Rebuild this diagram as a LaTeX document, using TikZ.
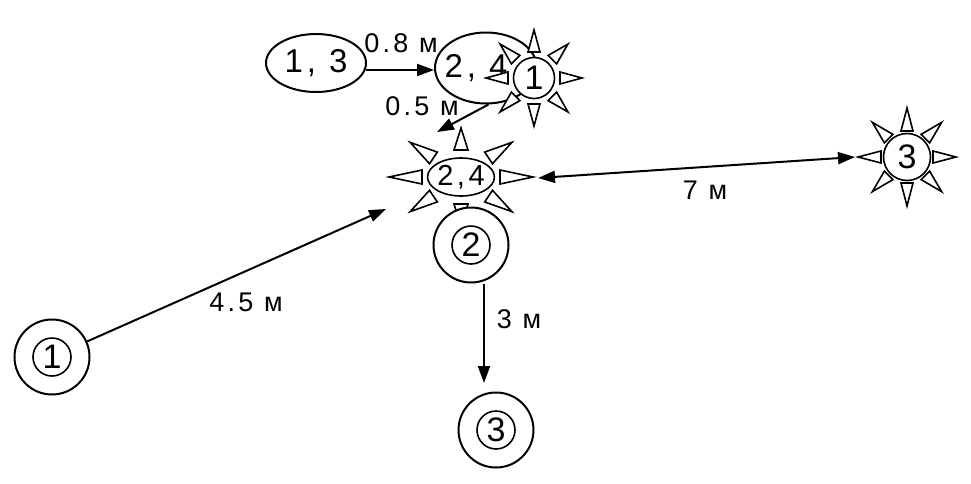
\documentclass[tikz,border=0pt]{standalone}
\usepackage{fontspec}
\setmainfont{Liberation Sans}
\newfontfamily\lsp[LetterSpace=12]{Liberation Sans}
\usetikzlibrary{arrows.meta,calc,shapes.geometric}
\tikzset{
  lw/.style={line width=2pt},
  outerc/.style={circle, draw, lw, minimum size=75pt, inner sep=0pt, fill=white},
  innerc/.style={circle, draw, line width=1.6pt, minimum size=38pt, inner sep=0pt, fill=white, font=\fontsize{34}{34}\selectfont},
  lab/.style={font=\lsp\fontsize{27}{27}\selectfont, inner sep=0pt},
  big/.style={font=\lsp\fontsize{33}{33}\selectfont, inner sep=0pt},
  arr/.style={lw, -{Triangle[length=17pt,width=12pt]}},
  dbl/.style={lw, {Triangle[length=17pt,width=12pt]}-{Triangle[length=17pt,width=12pt]}},
  ray/.style={line width=1.6pt, fill=white, line join=miter},
  ell/.style={ellipse, draw, lw, fill=white, inner sep=0pt},
}
\newcommand\sunray[7]{%
  \path (#1) ++(#2:#3pt and #4pt) coordinate (ri);
  \path (#1) ++(#2:#5pt and #6pt) coordinate (ro);
  \draw[ray] ($(ri)!#7pt!90:(ro)$) -- (ro) -- ($(ri)!#7pt!-90:(ro)$) -- cycle;
}
\begin{document}
\begin{tikzpicture}[x=1pt,y=-1pt]
\useasboundingbox (0,0) rectangle (971,483);

% top ellipses
\node[ell, minimum width=100pt, minimum height=58pt] (e13) at (316,63) {};
\node[big] (e13t) at (316,63) {1,\ 3};
\node[ell, minimum width=102pt, minimum height=71pt] (e24) at (486,68) {};
\node[big] (e24t) at (476,68) {2,\ 4};

% sun 1 (top)
\coordinate (s1c) at (534,78);
\foreach \a in {0,45,...,315} {\sunray{s1c}{\a}{26}{26}{48}{48}{6}}
\node[innerc, minimum size=41pt] (s1) at (s1c) {1};

% sun 2,4
\coordinate (s24c) at (461,177);
\foreach \a in {0,45,...,315} {\sunray{s24c}{\a}{39}{27}{72}{49}{7}}
\node[ell, line width=1.6pt, minimum width=62pt, minimum height=38pt, font=\lsp\fontsize{29}{29}\selectfont] (s24) at (s24c) {2,4};

% sun 3
\coordinate (s3c) at (907,157);
\foreach \a in {0,45,...,315} {\sunray{s3c}{\a}{26}{26}{49}{49}{6}}
\node[innerc, minimum size=47pt] (s3) at (s3c) {3};

% circled positions
\node[outerc] (n1) at (52,357) {};
\node[innerc] (n1i) at (n1) {1};
\node[outerc] (n2) at (471,245) {};
\node[innerc] (n2i) at (n2) {2};
\node[outerc] (n3) at (496,430) {};
\node[innerc] (n3i) at (n3) {3};

% connector end points
\coordinate (t05) at (437,132);
\coordinate (t45) at (386,209);
\coordinate (t3) at (484,383);
\coordinate (tL) at (538,178);
\coordinate (tR) at (855,157);

% connectors
\draw[arr] (e13.-8) -- (e13.-8 -| e24.west);
\draw[arr] (e24.-86) -- (t05);
\draw[arr] (n1) -- (t45);
\draw[arr] (t3 |- n2.south) -- (t3);
\draw[dbl] (tL) -- (tR);

% labels
\node[lab] (l08) at (401,43) {0.8 м};
\node[lab] (l05) at (422,106) {0.5 м};
\node[lab] (l7) at (705,190) {7 м};
\node[lab] (l45) at (246,302) {4.5 м};
\node[lab] (l3) at (519,319) {3 м};
\end{tikzpicture}
\end{document}
